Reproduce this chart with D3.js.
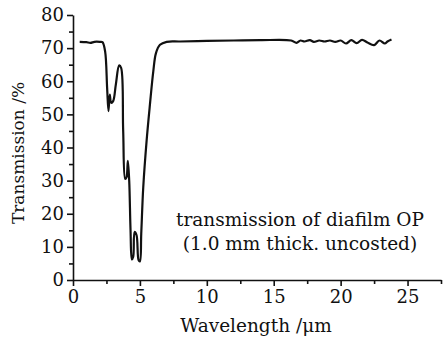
<!DOCTYPE html>
<html>
<head>
<meta charset="utf-8">
<script src="https://cdn.jsdelivr.net/npm/d3@7"></script>
<style>
  body { margin: 0; background: #fff; }
  text { font-family: "DejaVu Serif", "Liberation Serif", serif; fill: #111; }
  .axis path, .axis line { stroke: #111; stroke-width: 1.6; }
</style>
</head>
<body>
<svg id="chart" width="448" height="338"></svg>
<script>
/* Data */
var WAVELENGTH = [0.5, 1.0, 1.3, 1.6, 2.0, 2.2, 2.4, 2.55, 2.65, 2.75, 2.85, 3.0, 3.2, 3.45, 3.6, 3.75, 3.9, 4.0, 4.1, 4.2, 4.3, 4.4, 4.5, 4.6, 4.75, 4.9, 5.0, 5.1, 5.25, 5.5, 5.75, 6.0, 6.2, 6.5, 7.0, 8.0, 10.0, 12.0, 14.0, 16.3, 16.7, 17.0, 17.3, 17.7, 18.0, 18.4, 18.8, 19.2, 19.6, 20.0, 20.4, 20.8, 21.2, 21.6, 22.0, 22.5, 22.9, 23.3, 23.5, 23.8];
var TRANSMISSION = [71.9, 71.8, 71.6, 71.9, 71.9, 71.8, 69.0, 58.0, 51.0, 56.0, 53.5, 54.0, 59.0, 64.8, 64.0, 45.0, 30.5, 31.0, 36.0, 30.0, 15.0, 6.2, 7.0, 14.5, 13.5, 6.0, 5.6, 14.0, 28.0, 42.0, 53.0, 63.0, 68.5, 71.0, 71.9, 72.0, 72.2, 72.3, 72.4, 72.3, 71.6, 72.3, 72.0, 72.4, 71.9, 72.3, 72.0, 72.3, 71.9, 72.3, 71.4, 72.4, 71.5, 72.5, 71.7, 70.9, 72.3, 71.4, 72.0, 72.6];

var X_TICKS = [0, 5, 10, 15, 20, 25],
    X_MINOR = [2.5, 7.5, 12.5, 17.5, 22.5, 27.5],
    Y_TICKS = [0, 10, 20, 30, 40, 50, 60, 70, 80],
    Y_MINOR = [5, 15, 25, 35, 45, 55, 65, 75];

var X_LABEL = "Wavelength /\u03bcm",
    Y_LABEL = "Transmission /%",
    NOTE    = ["transmission of diafilm OP", "(1.0 mm thick. uncosted)"];

/* Measures */
var MARGIN = { left: 73, right: 7, top: 15, bottom: 58 };
var W = 448, H = 338;
var FONT_SIZE = 18;

var svg = d3.select("#chart");

var x = d3.scaleLinear().domain([0, 27.5]).range([MARGIN.left, W - MARGIN.right]);
var y = d3.scaleLinear().domain([0, 80]).range([H - MARGIN.bottom, MARGIN.top]);

function drawAxes() {
	var xAxis = svg.append("g")
		.attr("class", "axis")
		.attr("transform", "translate(0," + y(0) + ")")
		.call(d3.axisBottom(x).tickValues(X_TICKS).tickSize(6).tickSizeOuter(0).tickPadding(4));
	xAxis.selectAll("text").style("font-size", FONT_SIZE + "px");

	svg.append("g")
		.attr("class", "axis")
		.attr("transform", "translate(0," + y(0) + ")")
		.call(d3.axisBottom(x).tickValues(X_MINOR).tickSize(4).tickSizeOuter(0).tickFormat(""))
		.select(".domain").remove();

	var yAxis = svg.append("g")
		.attr("class", "axis")
		.attr("transform", "translate(" + x(0) + ",0)")
		.call(d3.axisLeft(y).tickValues(Y_TICKS).tickSize(6).tickSizeOuter(0).tickPadding(3));
	yAxis.selectAll("text").style("font-size", FONT_SIZE + "px");

	svg.append("g")
		.attr("class", "axis")
		.attr("transform", "translate(" + x(0) + ",0)")
		.call(d3.axisLeft(y).tickValues(Y_MINOR).tickSize(4).tickSizeOuter(0).tickFormat(""))
		.select(".domain").remove();

	svg.append("text")
		.attr("x", 256)
		.attr("y", 332)
		.attr("text-anchor", "middle")
		.style("font-size", "18.5px")
		.text(X_LABEL);

	svg.append("text")
		.attr("transform", "translate(24 153) rotate(-90)")
		.attr("text-anchor", "middle")
		.style("font-size", "17px")
		.text(Y_LABEL);
}

function drawCurve() {
	var pts = d3.zip(WAVELENGTH, TRANSMISSION);
	var line = d3.line()
		.x(function(d) { return x(d[0]); })
		.y(function(d) { return y(d[1]); })
		.curve(d3.curveCatmullRom.alpha(0.5));

	svg.append("path")
		.datum(pts)
		.attr("fill", "none")
		.attr("stroke", "#111")
		.attr("stroke-width", 2.2)
		.attr("stroke-linejoin", "round")
		.attr("d", line);
}

function drawNote() {
	svg.selectAll("text.note")
		.data(NOTE)
		.enter().append("text")
		.classed("note", true)
		.attr("x", 300)
		.attr("y", function(d, i) { return 226 + i * 24; })
		.attr("text-anchor", "middle")
		.style("font-size", "18.5px")
		.text(String);
}

drawAxes();
drawCurve();
drawNote();
</script>
</body>
</html>
